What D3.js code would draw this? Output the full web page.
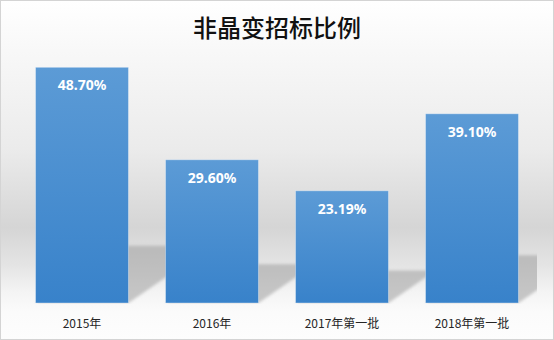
<!DOCTYPE html>
<html>
<head>
<meta charset="utf-8">
<script src="https://cdn.jsdelivr.net/npm/d3@7/dist/d3.min.js"></script>
<style>
  html, body { margin: 0; padding: 0; background: #fff; }
  svg { display: block; }
</style>
</head>
<body>
<script>
// Chart data
const title = "非晶变招标比例";
const categories = ["2015年", "2016年", "2017年第一批", "2018年第一批"];
const values = [48.70, 29.60, 23.19, 39.10];
const valueLabels = ["48.70%", "29.60%", "23.19%", "39.10%"];
const yDomain = [0, 50];

const W = 554, H = 340;
const plot = { left: 17, right: 537, top: 61, bottom: 303 };

const svg = d3.select("body").append("svg")
  .attr("width", W).attr("height", H);

const defs = svg.append("defs");

// Chart background: soft grey band behind the lower half of the bars
const bg = defs.append("linearGradient").attr("id", "bgGrad")
  .attr("x1", 0).attr("y1", 0).attr("x2", 0).attr("y2", 1);
[[0, "#ffffff"], [0.17, "#f7f7f7"], [0.44, "#ebebeb"], [0.67, "#d5d5d5"],
 [0.78, "#e4e4e4"], [0.86, "#f4f4f4"], [0.92, "#fbfbfb"], [1, "#fdfdfd"]]
  .forEach(([o, c]) => bg.append("stop").attr("offset", o).attr("stop-color", c));

// Bar fill: lighter blue at the top, deeper blue at the base
const barGrad = defs.append("linearGradient").attr("id", "barGrad")
  .attr("x1", 0).attr("y1", 0).attr("x2", 0).attr("y2", 1);
barGrad.append("stop").attr("offset", 0).attr("stop-color", "#5c9bd6");
barGrad.append("stop").attr("offset", 1).attr("stop-color", "#3882ca");

defs.append("filter").attr("id", "shadowBlur")
  .attr("x", "-20%").attr("y", "-20%").attr("width", "140%").attr("height", "140%")
  .append("feGaussianBlur").attr("stdDeviation", 1.6);

defs.append("clipPath").attr("id", "plotClip")
  .append("rect")
  .attr("x", plot.left).attr("y", 0)
  .attr("width", plot.right - plot.left).attr("height", plot.bottom + 1);

svg.append("rect")
  .attr("x", 0.5).attr("y", 0.5).attr("width", W - 1).attr("height", H - 1)
  .attr("fill", "url(#bgGrad)")
  .attr("stroke", "#d4d4d4").attr("stroke-width", 1);

// Scales
const x = d3.scaleBand()
  .domain(categories)
  .range([plot.left, plot.right])
  .paddingInner(0.285)
  .paddingOuter(0.1425);

const y = d3.scaleLinear()
  .domain(yDomain)
  .range([plot.bottom, plot.top]);

const rows = categories.map((c, i) => ({ cat: c, value: values[i], label: valueLabels[i] }));

// Slanted floor shadows cast by each bar
const shadowG = svg.append("g").attr("clip-path", "url(#plotClip)");
shadowG.selectAll("polygon")
  .data(rows)
  .join("polygon")
  .attr("points", d => {
    const x0 = x(d.cat), x1 = x0 + x.bandwidth();
    const base = y(0);
    const h = base - y(d.value);
    const sh = 10 + 0.2 * h;
    const dx = sh * 1.45;
    return [[x0, base], [x1, base], [x1 + dx, base - sh], [x0 + dx, base - sh]]
      .map(p => p.join(",")).join(" ");
  })
  .attr("fill", "#9e9e9e")
  .attr("fill-opacity", 0.55)
  .attr("filter", "url(#shadowBlur)");

// Bars
svg.append("g").selectAll("rect")
  .data(rows)
  .join("rect")
  .attr("x", d => x(d.cat))
  .attr("y", d => y(d.value))
  .attr("width", x.bandwidth())
  .attr("height", d => y(0) - y(d.value))
  .attr("fill", "url(#barGrad)")
  .attr("stroke", "rgba(255,255,255,0.35)")
  .attr("stroke-width", 1);

// Value labels inside bar tops
svg.append("g").selectAll("text")
  .data(rows)
  .join("text")
  .attr("x", d => x(d.cat) + x.bandwidth() / 2)
  .attr("y", d => y(d.value) + 23)
  .attr("text-anchor", "middle")
  .attr("fill", "#ffffff")
  .attr("font-family", "'Noto Sans', 'Noto Sans CJK SC', sans-serif")
  .attr("font-weight", "bold")
  .attr("font-size", 14)
  .text(d => d.label);

// Category axis (labels only)
const xAxis = svg.append("g")
  .attr("transform", `translate(0,${plot.bottom})`)
  .call(d3.axisBottom(x).tickSize(0).tickPadding(16));
xAxis.select(".domain").remove();
xAxis.selectAll("text")
  .attr("fill", "#262626")
  .attr("font-family", "'Noto Sans CJK SC', 'Noto Sans', sans-serif")
  .attr("font-size", 12);

// Title
svg.append("text")
  .attr("x", W / 2)
  .attr("y", 37)
  .attr("text-anchor", "middle")
  .attr("fill", "#111111")
  .attr("font-family", "'Noto Sans CJK SC', sans-serif")
  .attr("font-weight", 500)
  .attr("font-size", 24)
  .text(title);
</script>
</body>
</html>
